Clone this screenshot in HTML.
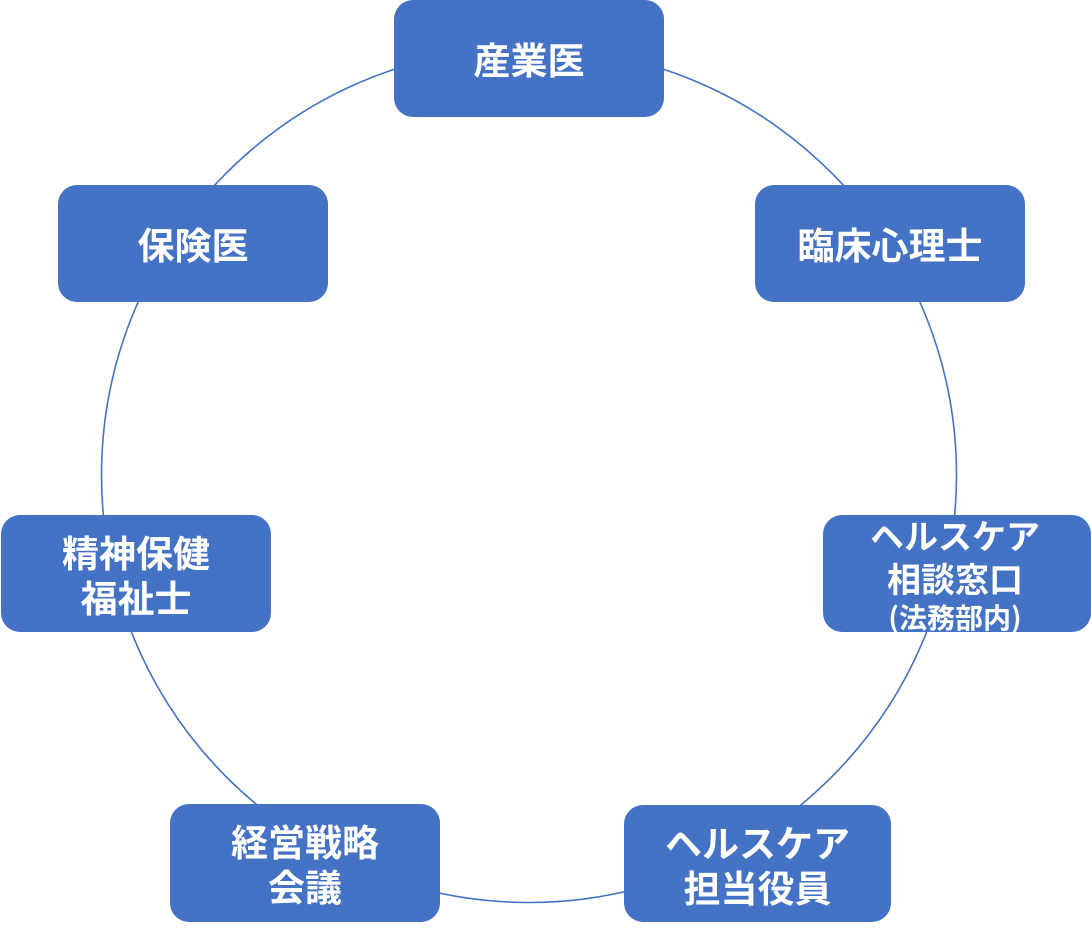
<!DOCTYPE html>
<html>
<head>
<meta charset="utf-8">
<style>
  html,body{margin:0;padding:0;background:#fff;}
  body{width:1091px;height:931px;position:relative;overflow:hidden;
       font-family:"Liberation Sans","Noto Sans CJK JP",sans-serif;}
  .box{position:absolute;background:#4472C4;border-radius:19px;color:#fff;
       display:flex;align-items:center;justify-content:center;text-align:center;
       font-family:"Noto Sans CJK JP","Liberation Sans",sans-serif;
       font-weight:700;font-size:37px;line-height:45px;}
  .ln{position:absolute;left:823px;width:264px;height:40px;line-height:40px;text-align:center;
      color:#fff;font-family:"Noto Sans CJK JP","Liberation Sans",sans-serif;font-weight:700;}
  svg{position:absolute;left:0;top:0;}
</style>
</head>
<body>
<svg width="1091" height="931">
  <circle cx="529" cy="475" r="427.5" fill="none" stroke="#4472C4" stroke-width="1.6"/>
</svg>

<div class="box" style="left:394px;top:0px;width:270px;height:117px;">産業医</div>
<div class="box" style="left:58px;top:185px;width:270px;height:117px;">保険医</div>
<div class="box" style="left:755px;top:185px;width:270px;height:117px;">臨床心理士</div>
<div class="box" style="left:1px;top:515px;width:270px;height:117px;">精神保健<br>福祉士</div>
<div class="box" style="left:823px;top:515px;width:268px;height:117px;"></div>
<div class="box" style="left:170px;top:804px;width:270px;height:118px;">経営戦略<br>会議</div>
<div class="box" style="left:624px;top:805px;width:267px;height:117px;">ヘルスケア<br>担当役員</div>

<div class="ln" style="top:515px;font-size:34px;">ヘルスケア</div>
<div class="ln" style="top:558px;font-size:34px;">相談窓口</div>
<div class="ln" style="top:597px;font-size:28px;">(法務部内)</div>
</body>
</html>
